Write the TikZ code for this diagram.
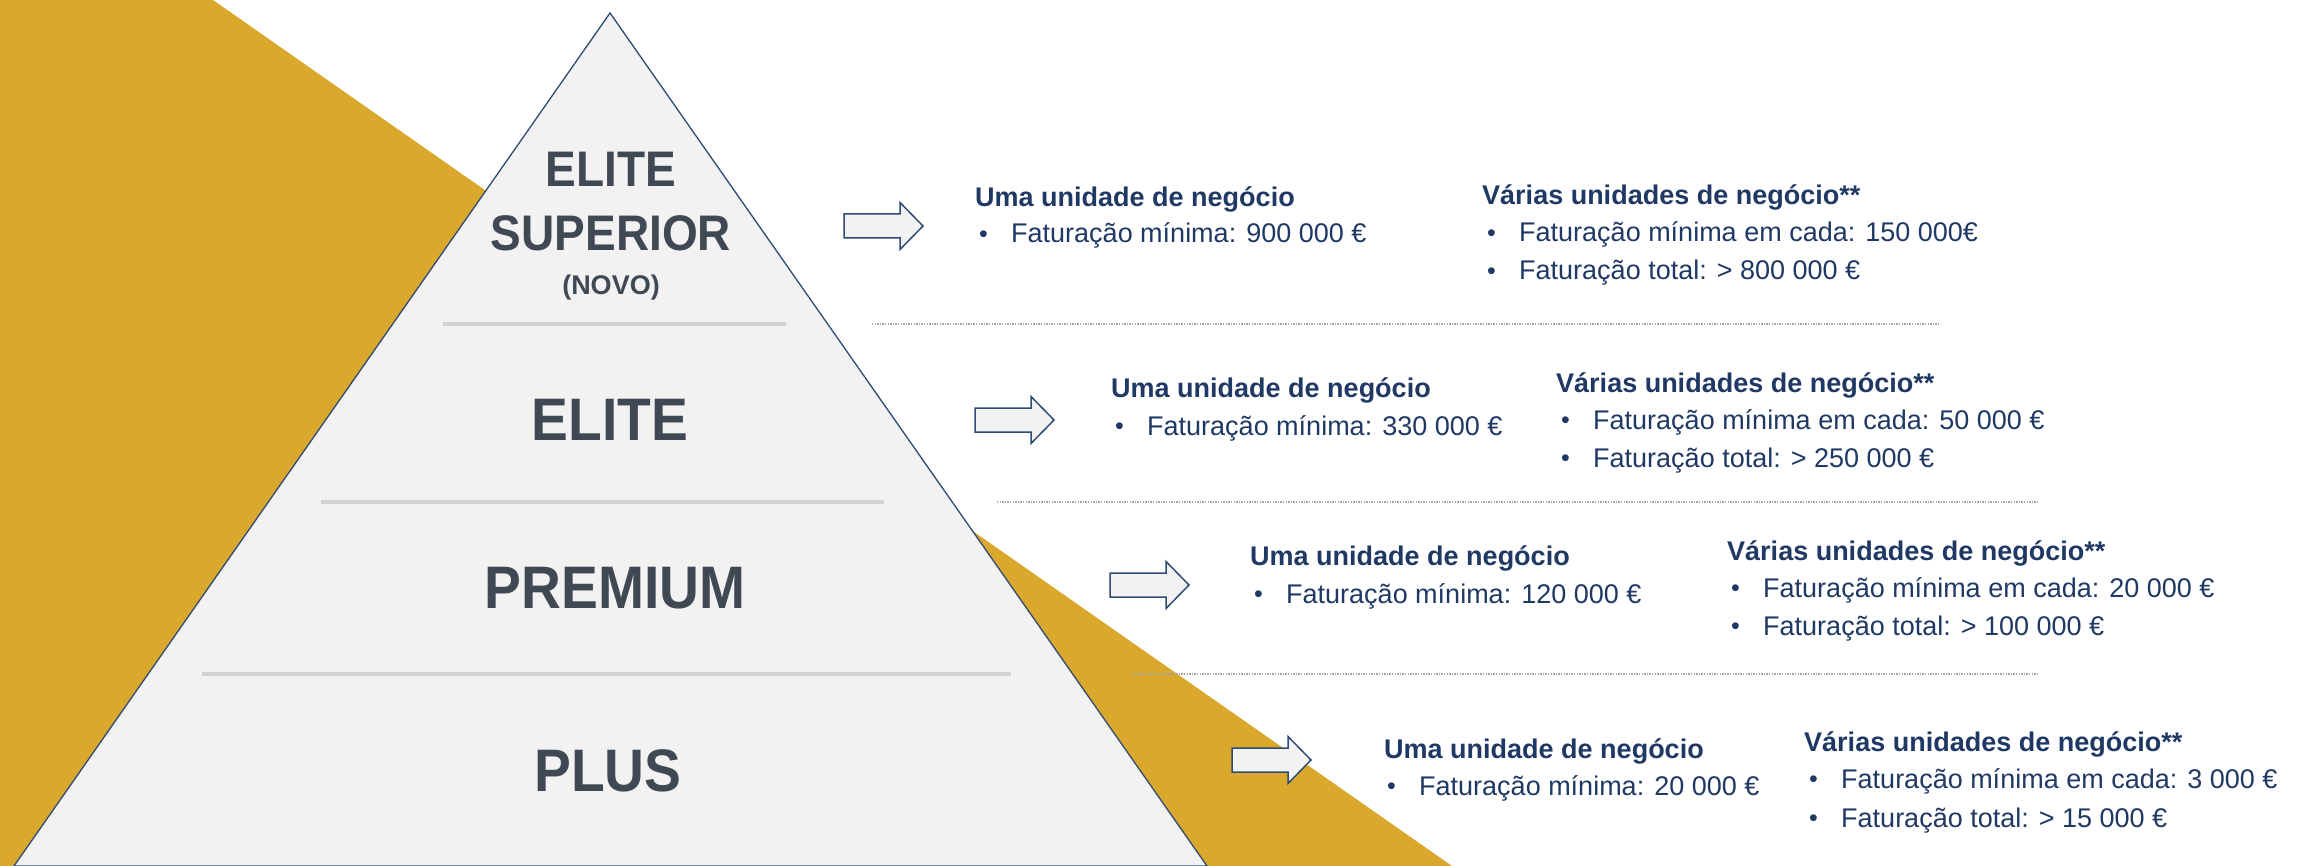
\documentclass[tikz,border=0pt]{standalone}
\usepackage{fontspec}
\setmainfont{Liberation Sans}
\newfontfamily\tierfont[FakeStretch=0.92]{Liberation Sans}
\definecolor{gold}{RGB}{217,168,44}
\definecolor{tribg}{RGB}{242,242,242}
\definecolor{navy}{RGB}{31,56,100}
\definecolor{edge}{RGB}{47,75,115}
\definecolor{tiercol}{RGB}{64,72,84}
\definecolor{sepgray}{RGB}{210,210,212}
\definecolor{dotgray}{RGB}{165,165,165}
\newcommand{\myitem}[1]{\makebox[32pt][l]{\raisebox{0.5pt}{\fontsize{25}{25}\selectfont •}}#1}
\newcommand{\blockarr}[1]{\draw[barrow] (#1) ++(0,-12) -- ++(56,0) -- ++(0,-11.5) -- ++(23,23.5) -- ++(-23,23.5) -- ++(0,-11.5) -- ++(-56,0) -- cycle;}
\begin{document}
\begin{tikzpicture}[x=1pt,y=-1pt,
  tierS/.style={font=\tierfont\bfseries\fontsize{50}{52}\selectfont, text=tiercol, inner sep=0, anchor=base},
  tierN/.style={font=\bfseries\fontsize{27}{29}\selectfont, text=tiercol, inner sep=0, anchor=base},
  tierL/.style={font=\tierfont\bfseries\fontsize{60}{62}\selectfont, text=tiercol, inner sep=0, anchor=base},
  head/.style={font=\bfseries\fontsize{27}{30}\selectfont, text=navy, inner sep=0, anchor=base west},
  item/.style={font=\fontsize{27}{30}\selectfont, text=navy, inner sep=0, anchor=base west},
  barrow/.style={draw=edge, fill=tribg, line width=1.5pt, line join=miter},
  tiersep/.style={draw=sepgray, line width=4pt},
  dotsep/.style={draw=dotgray, line width=1.3pt, dash pattern=on 1.3pt off 1.3pt}
]
\useasboundingbox (0,0) rectangle (2299,866);
% gold background band
\fill[gold] (0,0) -- (213,0) -- (1452,866) -- (0,866) -- cycle;
% pyramid
\coordinate (apex) at (610,13);
\coordinate (bl) at (14,866);
\coordinate (br) at (1207,866);
\filldraw[fill=tribg, draw=edge, line width=1.3pt, line join=miter] (apex) -- (br) -- (bl) -- cycle;
% separators inside pyramid
\coordinate (s1a) at (443,324); \coordinate (s1b) at (786,324);
\coordinate (s2a) at (321,502); \coordinate (s2b) at (884,502);
\coordinate (s3a) at (202,674); \coordinate (s3b) at (1011,674);
\draw[tiersep] (s1a) -- (s1b);
\draw[tiersep] (s2a) -- (s2b);
\draw[tiersep] (s3a) -- (s3b);
% tier labels
\node[tierS] (t1a) at (611,187) {ELITE};
\node[tierS] (t1b) at (611,251) {SUPERIOR};
\node[tierN] (t1c) at (611,295) {(NOVO)};
\node[tierL] (t2) at (610,440) {ELITE};
\node[tierL] (t3) at (615,608) {PREMIUM};
\node[tierL] (t4) at (608,791) {PLUS};
% dotted separators on the right
\coordinate (d1a) at (872,324); \coordinate (d1b) at (1939,324);
\coordinate (d2a) at (997,502); \coordinate (d2b) at (2038,502);
\coordinate (d3a) at (1132,674); \coordinate (d3b) at (2038,674);
\draw[dotsep] (d1a) -- (d1b);
\draw[dotsep] (d2a) -- (d2b);
\draw[dotsep] (d3a) -- (d3b);
% block arrows
\coordinate (a1) at (844,226);
\coordinate (a2) at (975,420);
\coordinate (a3) at (1110,585);
\coordinate (a4) at (1232,760);
\blockarr{a1}
\blockarr{a2}
\blockarr{a3}
\blockarr{a4}
% block 1
\node[head] (h1a) at (975,207) {Uma unidade de negócio};
\node[item] (i1a) at (979,243) {\myitem{Faturação mínima: 900 000 €}};
\node[head] (h1b) at (1482,205) {Várias unidades de negócio**};
\node[item] (i1b) at (1487,242) {\myitem{Faturação mínima em cada: 150 000€}};
\node[item] (i1c) at (1487,280) {\myitem{Faturação total: > 800 000 €}};
% block 2
\node[head] (h2a) at (1111,397) {Uma unidade de negócio};
\node[item] (i2a) at (1115,435) {\myitem{Faturação mínima: 330 000 €}};
\node[head] (h2b) at (1556,392) {Várias unidades de negócio**};
\node[item] (i2b) at (1561,429) {\myitem{Faturação mínima em cada: 50 000 €}};
\node[item] (i2c) at (1561,467) {\myitem{Faturação total: > 250 000 €}};
% block 3
\node[head] (h3a) at (1250,565) {Uma unidade de negócio};
\node[item] (i3a) at (1254,603) {\myitem{Faturação mínima: 120 000 €}};
\node[head] (h3b) at (1727,560) {Várias unidades de negócio**};
\node[item] (i3b) at (1731,597) {\myitem{Faturação mínima em cada: 20 000 €}};
\node[item] (i3c) at (1731,635) {\myitem{Faturação total: > 100 000 €}};
% block 4
\node[head] (h4a) at (1384,758) {Uma unidade de negócio};
\node[item] (i4a) at (1387,795) {\myitem{Faturação mínima: 20 000 €}};
\node[head] (h4b) at (1804,751) {Várias unidades de negócio**};
\node[item] (i4b) at (1809,788) {\myitem{Faturação mínima em cada: 3 000 €}};
\node[item] (i4c) at (1809,827) {\myitem{Faturação total: > 15 000 €}};
\end{tikzpicture}
\end{document}
